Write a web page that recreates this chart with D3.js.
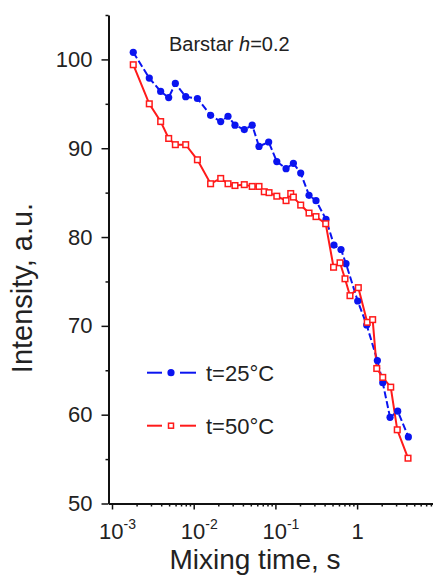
<!DOCTYPE html>
<html>
<head>
<meta charset="utf-8">
<script src="https://cdn.jsdelivr.net/npm/d3@7"></script>
<style>
  body { margin: 0; background: #fff; }
  svg text { font-family: "Liberation Sans", Arial, sans-serif; fill: #222; }
  .axis path, .axis line { stroke: #111; }
</style>
</head>
<body>
<div id="chart"></div>
<script>
// mixing time (s) and intensity
var blueT = [0.00182, 0.00286, 0.00394, 0.00494, 0.00596, 0.00798, 0.0111, 0.0161, 0.0214, 0.0263, 0.032,
  0.0416, 0.052, 0.063, 0.0827, 0.104, 0.135, 0.166, 0.204, 0.258, 0.314, 0.416, 0.521, 0.635, 0.731,
  1.017, 1.31, 1.77, 2.06, 2.53, 3.14, 4.24];
var blueI = [100.8, 97.9, 96.4, 95.7, 97.3, 95.8, 95.6, 93.7, 93.0, 93.6, 92.6,
  92.1, 92.6, 90.2, 90.7, 88.5, 87.7, 88.3, 87.2, 84.7, 84.1, 82.0, 79.1, 78.6, 77.0,
  72.8, 70.1, 66.1, 63.6, 59.7, 60.4, 57.5];

var redT = [0.00182, 0.00286, 0.00394, 0.00494, 0.00596, 0.00798, 0.0111, 0.0161, 0.0214, 0.0263, 0.032,
  0.0416, 0.052, 0.063, 0.0731, 0.0836, 0.104, 0.135, 0.154, 0.166, 0.204, 0.258, 0.314, 0.413,
  0.515, 0.618, 0.711, 0.818, 1.035, 1.33, 1.55, 1.74, 2.06, 2.58, 3.10, 4.20];
var redI = [99.4, 95.0, 93.0, 91.1, 90.4, 90.4, 88.7, 86.0, 86.6, 86.0, 85.8,
  85.9, 85.7, 85.7, 85.1, 85.0, 84.6, 84.1, 84.9, 84.5, 83.6, 82.7, 82.3, 81.5,
  76.6, 77.1, 75.3, 73.4, 74.3, 70.4, 70.7, 65.2, 64.2, 63.1, 58.3, 55.1];

var xMajor = [1e-3, 1e-2, 1e-1, 1];
var xMajorExp = ['-3', '-2', '-1', ''];
var yMajor = [50, 60, 70, 80, 90, 100];
var seriesNames = ['t=25°C', 't=50°C'];
var title = 'Barstar ';

var W = 433, H = 577;
var svg = d3.select('#chart').append('svg').attr('width', W).attr('height', H);

var x = d3.scaleLog().domain([9.06e-4, 8.49]).range([108.5, 433]);
var y = d3.scaleLinear().domain([50, 105]).range([503.5, 15]);

// minor x ticks
var xMinor = [];
[-4, -3, -2, -1, 0].forEach(function(e) {
  for (var k = 2; k <= 9; k++) {
    var v = k * Math.pow(10, e);
    if (v > x.domain()[0] && v < x.domain()[1]) xMinor.push(v);
  }
});
var yMinor = [55, 65, 75, 85, 95, 105];

svg.append('g').attr('class', 'axis')
  .attr('transform', 'translate(0,' + y(50) + ')')
  .call(d3.axisBottom(x).tickValues(xMinor).tickSize(3).tickSizeOuter(0).tickFormat(''))
  .call(function(g) { g.selectAll('line').attr('stroke-width', 1.5); g.select('path').attr('stroke-width', 2); });

var gx = svg.append('g').attr('class', 'axis')
  .attr('transform', 'translate(0,' + y(50) + ')')
  .call(d3.axisBottom(x).tickValues(xMajor).tickSize(6).tickSizeOuter(0).tickPadding(14).tickFormat(''));
gx.select('path').remove();
gx.selectAll('line').attr('stroke-width', 1.5);
gx.selectAll('.tick text').each(function(d, i) {
  var t = d3.select(this).attr('font-size', 22).attr('dy', '0.71em');
  if (xMajorExp[i]) {
    t.attr('x', 5);
    t.append('tspan').text('10');
    t.append('tspan').attr('font-size', 14).attr('dy', '-0.75em').text(xMajorExp[i]);
  } else {
    t.append('tspan').text('1');
  }
});

svg.append('g').attr('class', 'axis')
  .attr('transform', 'translate(' + x.range()[0] + ',0)')
  .call(d3.axisLeft(y).tickValues(yMinor).tickSize(3).tickSizeOuter(0).tickFormat(''))
  .call(function(g) { g.selectAll('line').attr('stroke-width', 1.5); g.select('path').attr('stroke-width', 2); });

var gy = svg.append('g').attr('class', 'axis')
  .attr('transform', 'translate(' + x.range()[0] + ',0)')
  .call(d3.axisLeft(y).tickValues(yMajor).tickSize(7).tickSizeOuter(0).tickPadding(9));
gy.select('path').remove();
gy.selectAll('line').attr('stroke-width', 1.5);
gy.selectAll('text').attr('font-size', 22).style('font-family', '"Liberation Sans", Arial, sans-serif').style('fill', '#222');

// axis titles
svg.append('text').attr('x', 255).attr('y', 569).attr('text-anchor', 'middle')
  .attr('font-size', 28).text('Mixing time, s');
svg.append('text').attr('transform', 'translate(32,' + 288 + ') rotate(-90)')
  .attr('text-anchor', 'middle').attr('font-size', 29).text('Intensity, a.u.');

// title
var tt = svg.append('text').attr('x', 169).attr('y', 51).attr('font-size', 20);
tt.append('tspan').text(title);
tt.append('tspan').attr('font-style', 'italic').text('h');
tt.append('tspan').text('=0.2');

var blue = blueT.map(function(t, i) { return [t, blueI[i]]; });
var red = redT.map(function(t, i) { return [t, redI[i]]; });
var line = d3.line().x(function(d) { return x(d[0]); }).y(function(d) { return y(d[1]); });

svg.append('path').datum(blue).attr('d', line).attr('fill', 'none')
  .attr('stroke', '#0a14f0').attr('stroke-width', 2).attr('stroke-dasharray', '7,3');
svg.append('path').datum(red).attr('d', line).attr('fill', 'none')
  .attr('stroke', '#ff1a1a').attr('stroke-width', 2);

svg.append('g').selectAll('circle').data(blue).enter().append('circle')
  .attr('cx', function(d) { return x(d[0]); })
  .attr('cy', function(d) { return y(d[1]); })
  .attr('r', 3.6).attr('fill', '#0a14f0');

svg.append('g').selectAll('rect').data(red).enter().append('rect')
  .attr('x', function(d) { return x(d[0]) - 2.8; })
  .attr('y', function(d) { return y(d[1]) - 2.8; })
  .attr('width', 5.6).attr('height', 5.6)
  .attr('fill', '#fff').attr('stroke', '#ff1a1a').attr('stroke-width', 1.5);

// legend
var legY = [372.7, 425.7];
var legColor = ['#0a14f0', '#ff1a1a'];
legY.forEach(function(ly, i) {
  var g = svg.append('g');
  g.append('line').attr('x1', 147).attr('x2', 162).attr('y1', ly).attr('y2', ly)
    .attr('stroke', legColor[i]).attr('stroke-width', 2);
  g.append('line').attr('x1', 180).attr('x2', 196).attr('y1', ly).attr('y2', ly)
    .attr('stroke', legColor[i]).attr('stroke-width', 2);
  if (i == 0) {
    g.append('circle').attr('cx', 171).attr('cy', ly).attr('r', 3.6).attr('fill', legColor[i]);
  } else {
    g.append('rect').attr('x', 168.5).attr('y', ly - 2.5).attr('width', 5).attr('height', 5)
      .attr('fill', '#fff').attr('stroke', legColor[i]).attr('stroke-width', 1.5);
  }
  g.append('text').attr('x', 206).attr('y', ly + 8).attr('font-size', 22).text(seriesNames[i]);
});
</script>
</body>
</html>
